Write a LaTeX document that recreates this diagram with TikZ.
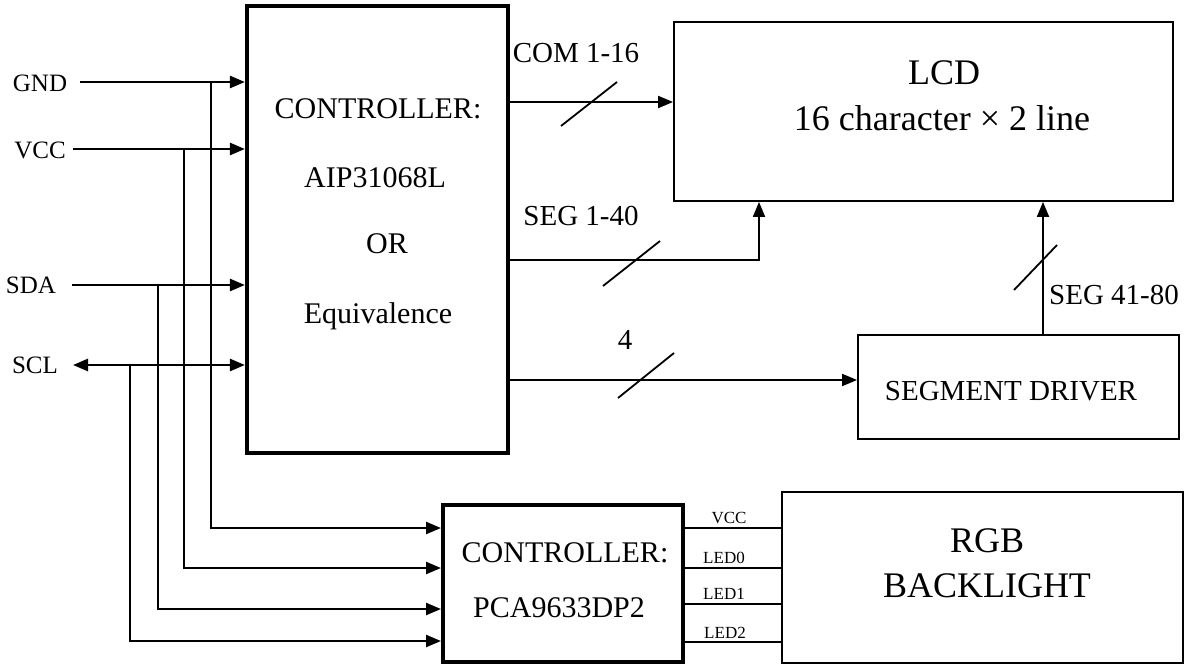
\documentclass[tikz,border=0pt]{standalone}
\usepackage{fontspec}
\setmainfont{Liberation Serif}
\usetikzlibrary{arrows.meta}
\begin{document}
\begin{tikzpicture}[x=1pt,y=-1pt,
  thinbox/.style={draw, line width=1.8pt, inner sep=0pt},
  heavybox/.style={draw, line width=4.2pt, inner sep=0pt},
  lbl/.style={inner sep=0pt, anchor=base},
  fbig/.style={font=\fontsize{36}{40}\selectfont},
  fmain/.style={font=\fontsize{30}{34}\selectfont},
  fmid/.style={font=\fontsize{29}{33}\selectfont},
  fleft/.style={font=\fontsize{25}{28}\selectfont},
  fsmall/.style={font=\fontsize{17}{20}\selectfont},
  tip/.tip={Triangle[length=15pt 0 0,width=12pt 0 0]},
  inwire/.style={line width=2.6pt},
  vwire/.style={line width=2.3pt},
  sig/.style={line width=1.8pt},
  slash/.style={line width=1.8pt}
]
\useasboundingbox (0,0) rectangle (1190,666);

% boxes
\node[heavybox, minimum width=261pt, minimum height=447pt] (ctrl) at (377.5,229.5) {};
\node[heavybox, minimum width=240pt, minimum height=157pt] (pca) at (563,583.5) {};
\node[thinbox, minimum width=499pt, minimum height=179pt] (lcd) at (923.5,111.5) {};
\node[thinbox, minimum width=321pt, minimum height=104pt] (seg) at (1018.5,387) {};
\node[thinbox, minimum width=401pt, minimum height=171pt] (rgb) at (982.5,577.5) {};

% texts in boxes
\node[lbl,fmain] (t1) at (378,118) {CONTROLLER:};
\node[lbl,fmain] (t2) at (375,187) {AIP31068L};
\node[lbl,fmain] (t3) at (387,253) {OR};
\node[lbl,fmain] (t4) at (378,323) {Equivalence};
\node[lbl,fbig] (t5) at (944,85) {LCD};
\node[lbl,fbig] (t6) at (942,131) {16 character × 2 line};
\node[lbl,fmid] (t7) at (1011,400) {SEGMENT DRIVER};
\node[lbl,fmain] (t8) at (565,562) {CONTROLLER:};
\node[lbl,fmain] (t9) at (559,617) {PCA9633DP2};
\node[lbl,fbig] (t10) at (987,552) {RGB};
\node[lbl,fbig] (t11) at (987,597) {BACKLIGHT};

% left labels
\node[lbl,fleft] (gnd) at (40,92) {GND};
\node[lbl,fleft] (vcc) at (40,158) {VCC};
\node[lbl,fleft] (sda) at (31,293) {SDA};
\node[lbl,fleft] (scl) at (35,373) {SCL};

% input wire start points and junctions
\coordinate (gndS) at (80,82);
\coordinate (vccS) at (73,149);
\coordinate (sdaS) at (72,285);
\coordinate (sclS) at (73,365);
\coordinate (gndJ) at (211,82);
\coordinate (vccJ) at (184,149);
\coordinate (sdaJ) at (158,285);
\coordinate (sclJ) at (130,365);
\coordinate (p1) at (441,528);
\coordinate (p2) at (441,568);
\coordinate (p3) at (441,609);
\coordinate (p4) at (441,641);

\draw[inwire,-tip] (gndS) -- (gndS -| ctrl.west);
\draw[inwire,-tip] (vccS) -- (vccS -| ctrl.west);
\draw[inwire,-tip] (sdaS) -- (sdaS -| ctrl.west);
\draw[inwire,tip-tip] (sclS) -- (sclS -| ctrl.west);

\draw[vwire,-tip] (gndJ) |- (p1);
\draw[vwire,-tip] (vccJ) |- (p2);
\draw[vwire,-tip] (sdaJ) |- (p3);
\draw[vwire,-tip] (sclJ) |- (p4);

% controller outputs
\draw[sig,-tip] (ctrl.east |- 0,102) -- (lcd.west |- 0,102);
\draw[sig,-tip] (ctrl.east |- 0,260) -| (lcd.south -| 759,0);
\draw[sig,-tip] (ctrl.east |- 0,380) -- (seg.west |- 0,380);
\draw[sig,-tip] (seg.north -| 1043,0) -- (lcd.south -| 1043,0);

% bus slashes
\draw[slash] (561,126) -- (617,82);
\draw[slash] (603,286) -- (660,241);
\draw[slash] (618,398) -- (674,353);
\draw[slash] (1014,290) -- (1057,245);

% bus labels
\node[lbl,fmid] (l1) at (576,63) {COM 1-16};
\node[lbl,fmid] (l2) at (581,225) {SEG 1-40};
\node[lbl,fmid] (l3) at (625,349) {4};
\node[lbl,fmid,anchor=base west] (l4) at (1049,304) {SEG 41-80};

% PCA to RGB
\draw[sig] (pca.east |- 0,528) -- (rgb.west |- 0,528);
\draw[sig] (pca.east |- 0,568) -- (rgb.west |- 0,568);
\draw[sig] (pca.east |- 0,604) -- (rgb.west |- 0,604);
\draw[sig] (pca.east |- 0,642) -- (rgb.west |- 0,642);
\node[lbl,fsmall] (o1) at (729,523) {VCC};
\node[lbl,fsmall] (o2) at (724,563) {LED0};
\node[lbl,fsmall] (o3) at (724,599) {LED1};
\node[lbl,fsmall] (o4) at (725,638) {LED2};
\end{tikzpicture}
\end{document}
